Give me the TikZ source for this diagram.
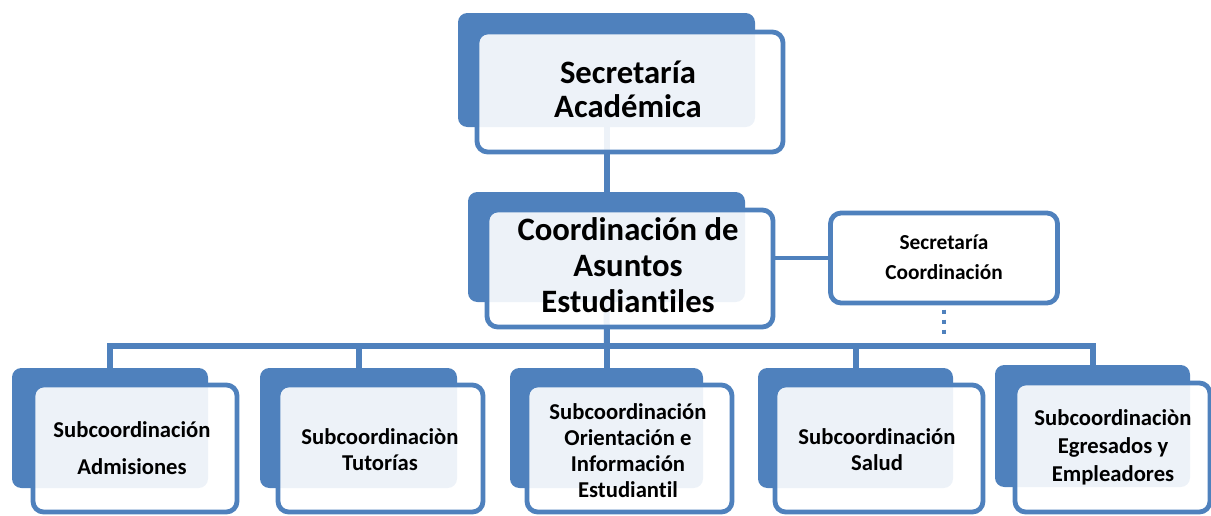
\documentclass[tikz,border=0pt]{standalone}
\usepackage{fontspec}
\setmainfont{Carlito}[Ligatures=NoCommon]
\usetikzlibrary{backgrounds}
\definecolor{bl}{HTML}{4F81BD}
\begin{document}
\begin{tikzpicture}[x=0.75pt,y=-0.75pt,
  sz/.style 2 args={minimum width=#1*0.75pt, minimum height=#2*0.75pt},
  back/.style={fill=bl, draw=none, rounded corners=7pt, inner sep=0pt, outer sep=0pt},
  front/.style={draw=bl, line width=3.6pt, fill=white, fill opacity=0.9, rounded corners=8pt, inner sep=0pt, outer sep=0pt},
  conn/.style={draw=bl, line width=4.5pt},
  lbl/.style={align=center, inner sep=0pt, text=black},
]
\useasboundingbox (0,0) rectangle (1211,515);

% top
\node[back, sz={297}{114}] (b0) at (606.5,70) {};
\node[front, sz={306}{120}] (f0) at (630,92) {};
\node[lbl, font=\bfseries\fontsize{24.5}{25.5}\selectfont] (t0) at (628,89) {Secretaría\\Académica};

% coordination
\node[back, sz={277}{110}] (b1) at (606.5,247) {};
\node[front, sz={286}{117}] (f1) at (630,268.5) {};
\node[lbl, font=\bfseries\fontsize{24.5}{27}\selectfont] (t1) at (628,265) {Coordinación de\\Asuntos\\Estudiantiles};

% secretaria coordinacion
\node[front, fill opacity=1, sz={227}{90}] (sec) at (944,258) {};
\node[lbl, font=\bfseries\fontsize{16}{22.5}\selectfont] (ts) at (944,257) {Secretaría\\Coordinación};

% bottom row
\node[back, sz={196}{120}] (b2) at (110,428) {};
\node[front, sz={204}{127}] (f2) at (135,448.5) {};
\node[lbl, font=\bfseries\fontsize{17}{27.75}\selectfont] (t2) at (132,448) {Subcoordinación\\Admisiones};

\node[back, sz={197}{120}] (b3) at (358.5,428) {};
\node[front, sz={205}{127}] (f3) at (380.5,448.5) {};
\node[lbl, font=\bfseries\fontsize{17}{19.5}\selectfont] (t3) at (380,450) {Subcoordinaciòn\\Tutorías};

\node[back, sz={193}{120}] (b4) at (606.5,428) {};
\node[front, sz={205}{127}] (f4) at (629.5,448.5) {};
\node[lbl, font=\bfseries\fontsize{17}{19.5}\selectfont] (t4) at (628,451) {Subcoordinación\\Orientación e\\Información\\Estudiantil};

\node[back, sz={195}{120}] (b5) at (855.5,428) {};
\node[front, sz={208}{127}] (f5) at (879,448.5) {};
\node[lbl, font=\bfseries\fontsize{17}{19.5}\selectfont] (t5) at (877,450) {Subcoordinación\\Salud};

\node[back, sz={195}{122}] (b6) at (1092.5,426) {};
\node[front, sz={195}{129}] (f6) at (1112.5,447.5) {};
\node[lbl, font=\bfseries\fontsize{17}{21}\selectfont] (t6) at (1113,447) {Subcoordinaciòn\\Egresados y\\Empleadores};

\coordinate (bus) at (607,346);
\coordinate (dd) at (944,336);

\begin{scope}[on background layer]
  \draw[conn] (b0.south) -- (b1.north);
  \draw[conn] (b1.south) -- (bus);
  \foreach \n in {b2,b3,b4,b5,b6} \draw[conn] (bus) -| (\n.north);
  \draw[conn, line width=3.6pt] (f1.east |- sec.west) -- (sec.west);
  \draw[bl, line width=3pt, dash pattern=on 3pt off 4.5pt] ([yshift=-5pt]sec.south) -- (dd);
\end{scope}
\end{tikzpicture}
\end{document}
